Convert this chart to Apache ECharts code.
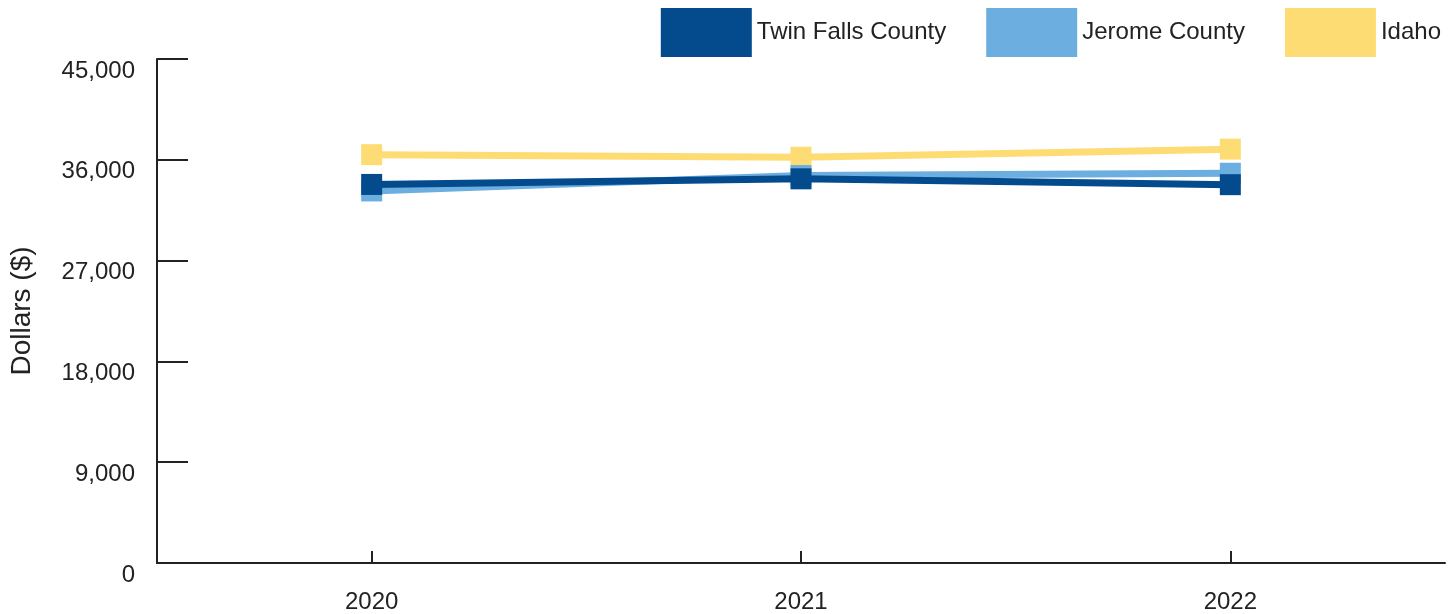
<!DOCTYPE html>
<html>
<head>
<meta charset="utf-8">
<script src="https://cdn.jsdelivr.net/npm/echarts@6/dist/echarts.min.js"></script>
<style>
  html, body { margin: 0; padding: 0; background: #ffffff; }
  #chart { width: 1455px; height: 614px; }
</style>
</head>
<body>
<div id="chart"></div>
<script>
// Per-capita income, dollars
const years = ['2020', '2021', '2022'];
const twinFalls = [33800, 34300, 33780];
const jerome = [33220, 34600, 34800];
const idaho = [36460, 36230, 36950];
const yTicks = { min: 0, max: 45000, interval: 9000 };

const ink = '#222222';
const font = 'Liberation Sans, Arial, sans-serif';

function lineSeries(name, data, color, z) {
  return {
    name: name,
    type: 'line',
    data: data,
    z: z,
    symbol: 'rect',
    symbolSize: 21,
    showAllSymbol: true,
    itemStyle: { color: color, borderWidth: 0 },
    lineStyle: { color: color, width: 7 },
    emphasis: { disabled: true },
    animation: false
  };
}

const chart = echarts.init(document.getElementById('chart'), null, { renderer: 'canvas' });
chart.setOption({
  backgroundColor: '#ffffff',
  animation: false,
  legend: {
    data: ['Twin Falls County', 'Jerome County', 'Idaho'],
    top: 3,
    right: 9,
    itemWidth: 91,
    itemHeight: 49,
    itemGap: 40,
    icon: 'rect',
    textStyle: { fontFamily: font, fontSize: 24, color: ink },
    selectedMode: false
  },
  grid: { left: 157, right: 10, top: 59, bottom: 51, containLabel: false },
  xAxis: {
    type: 'category',
    data: years,
    boundaryGap: true,
    axisLine: { show: true, lineStyle: { color: ink, width: 2 } },
    axisTick: { show: true, inside: true, alignWithLabel: true, length: 12, lineStyle: { color: ink, width: 2 } },
    axisLabel: { fontFamily: font, fontSize: 24, color: ink, margin: 27 },
    splitLine: { show: false }
  },
  yAxis: {
    type: 'value',
    min: yTicks.min,
    max: yTicks.max,
    interval: yTicks.interval,
    name: 'Dollars ($)',
    nameLocation: 'middle',
    nameGap: 121,
    nameRotate: 90,
    nameTextStyle: { fontFamily: font, fontSize: 28, color: ink },
    axisLine: { show: true, lineStyle: { color: ink, width: 2 } },
    axisTick: { show: true, inside: true, length: 31, lineStyle: { color: ink, width: 2 } },
    axisLabel: {
      fontFamily: font, fontSize: 24, color: ink, margin: 22,
      verticalAlign: 'top',
      formatter: v => v.toLocaleString('en-US')
    },
    splitLine: { show: false }
  },
  series: [
    lineSeries('Idaho', idaho, '#FEDC74', 2),
    lineSeries('Jerome County', jerome, '#6BAEDF', 3),
    lineSeries('Twin Falls County', twinFalls, '#034B8D', 4)
  ]
});
</script>
</body>
</html>
